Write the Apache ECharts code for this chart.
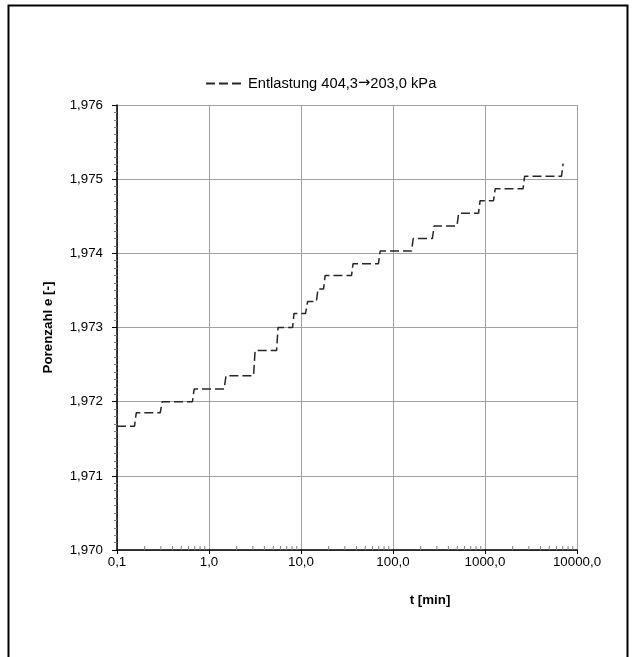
<!DOCTYPE html>
<html>
<head>
<meta charset="utf-8">
<script src="https://cdn.jsdelivr.net/npm/echarts@6/dist/echarts.min.js"></script>
<style>
html,body{margin:0;padding:0;background:#fff;}
#chart{width:632px;height:657px;}
</style>
</head>
<body>
<div id="chart"></div>
<script>
const seriesName = 'Entlastung 404,3\u2192203,0 kPa';
const xAxisTitle = 't [min]';
const yAxisTitle = 'Porenzahl e [-]';

// time [min] of the measured points (each step: end of level, start of next level)
const timeMin = [0.1, 0.155, 0.162, 0.295, 0.31, 0.66, 0.69, 1.46, 1.53, 3.05, 3.17, 5.43, 5.63, 8.1, 8.4,
  11.2, 11.8, 14.7, 15.3, 17.6, 18.3, 35.4, 36.8, 69.5, 72.5, 159, 166, 268, 280, 496, 517,
  850, 885, 1237, 1290, 2590, 2700, 6780, 7060];
// void ratio e [-]
const voidRatio = [1.97167, 1.97167, 1.97185, 1.97185, 1.97200, 1.97200, 1.97217, 1.97217, 1.97235, 1.97235, 1.97269, 1.97269, 1.97300, 1.97300, 1.97319,
  1.97319, 1.97335, 1.97335, 1.97352, 1.97352, 1.97370, 1.97370, 1.97386, 1.97386, 1.97403, 1.97403, 1.97420, 1.97420, 1.97437, 1.97437, 1.97454,
  1.97454, 1.97471, 1.97471, 1.97487, 1.97487, 1.97504, 1.97504, 1.97521];

const xTickValues = [0.1, 1, 10, 100, 1000, 10000];
const yTickValues = [1.970, 1.971, 1.972, 1.973, 1.974, 1.975, 1.976];
const xMinorTicks = [];
for (let d = 0.1; d < 5000; d *= 10) {
  for (let k = 2; k <= 9; k++) xMinorTicks.push([+(d * k).toPrecision(3), yTickValues[0]]);
}

const lineData = timeMin.map((t, i) => [t, voidRatio[i]]);

const chart = echarts.init(document.getElementById('chart'), null, {renderer: 'canvas'});
const fontFam = 'Liberation Sans, Arial, sans-serif';
chart.setOption({
  animation: false,
  backgroundColor: '#fff',
  grid: {left: 117, right: 55, top: 105, bottom: 107, containLabel: false},
  legend: {
    data: [seriesName],
    left: 200, top: 71,
    itemWidth: 37, itemHeight: 14, itemGap: 5,
    itemStyle: {opacity: 0},
    formatter: name => {
      const parts = name.split('\u2192');
      return parts[0] + '{arr|\u2192}' + parts[1];
    },
    textStyle: {
      fontFamily: fontFam, fontSize: 14.67, color: '#000',
      rich: {arr: {fontFamily: 'DejaVu Sans', fontSize: 14.67, color: '#000'}}
    }
  },
  xAxis: {
    type: 'log', logBase: 10,
    min: xTickValues[0], max: xTickValues[xTickValues.length - 1],
    splitNumber: 5,
    axisLine: {show: true, lineStyle: {color: '#000', width: 1.5}},
    axisTick: {show: true, inside: false, length: 4, lineStyle: {color: '#000'}},
    axisLabel: {
      fontFamily: fontFam, fontSize: 13.33, color: '#000', margin: 6,
      formatter: v => Number(v).toFixed(1).replace('.', ',')
    },
    splitLine: {show: true, lineStyle: {color: '#a0a0a0', width: 1}}
  },
  yAxis: {
    type: 'value',
    min: yTickValues[0], max: yTickValues[yTickValues.length - 1], interval: 0.001,
    name: yAxisTitle, nameLocation: 'middle', nameGap: 62,
    nameTextStyle: {fontFamily: fontFam, fontSize: 13.33, fontWeight: 'bold', color: '#000'},
    axisLine: {show: true, lineStyle: {color: '#000', width: 1.5}},
    axisTick: {show: true, inside: false, length: 5, lineStyle: {color: '#000'}},
    minorTick: {show: true, splitNumber: 10, length: 3, lineStyle: {color: '#808080'}},
    axisLabel: {
      fontFamily: fontFam, fontSize: 13.33, color: '#000', margin: 14,
      formatter: v => Number(v).toFixed(3).replace('.', ',')
    },
    splitLine: {show: true, lineStyle: {color: '#a0a0a0', width: 1}}
  },
  series: [
    {
      name: seriesName,
      type: 'line',
      data: lineData,
      showSymbol: false,
      symbol: 'none',
      lineStyle: {color: '#262626', width: 1.5, type: [9, 4]},
      itemStyle: {color: '#262626'}
    },
    {
      name: 'minorTicksX',
      type: 'custom',
      data: xMinorTicks,
      silent: true,
      renderItem: (params, api) => {
        const p = api.coord([api.value(0), api.value(1)]);
        return {type: 'line', shape: {x1: p[0], y1: p[1], x2: p[0], y2: p[1] - 4},
          style: {stroke: '#808080', lineWidth: 1}};
      }
    }
  ],
  graphic: [
    {type: 'rect', left: 6, top: 3, z: 100, silent: true,
      shape: {x: 0, y: 0, width: 619, height: 700},
      style: {fill: 'none', stroke: '#000', lineWidth: 2}},
    {type: 'text', x: 430, y: 600, z: 100,
      style: {text: xAxisTitle, font: 'bold 13.33px ' + fontFam, fill: '#000', align: 'center', verticalAlign: 'middle'}}
  ]
});
</script>
</body>
</html>
